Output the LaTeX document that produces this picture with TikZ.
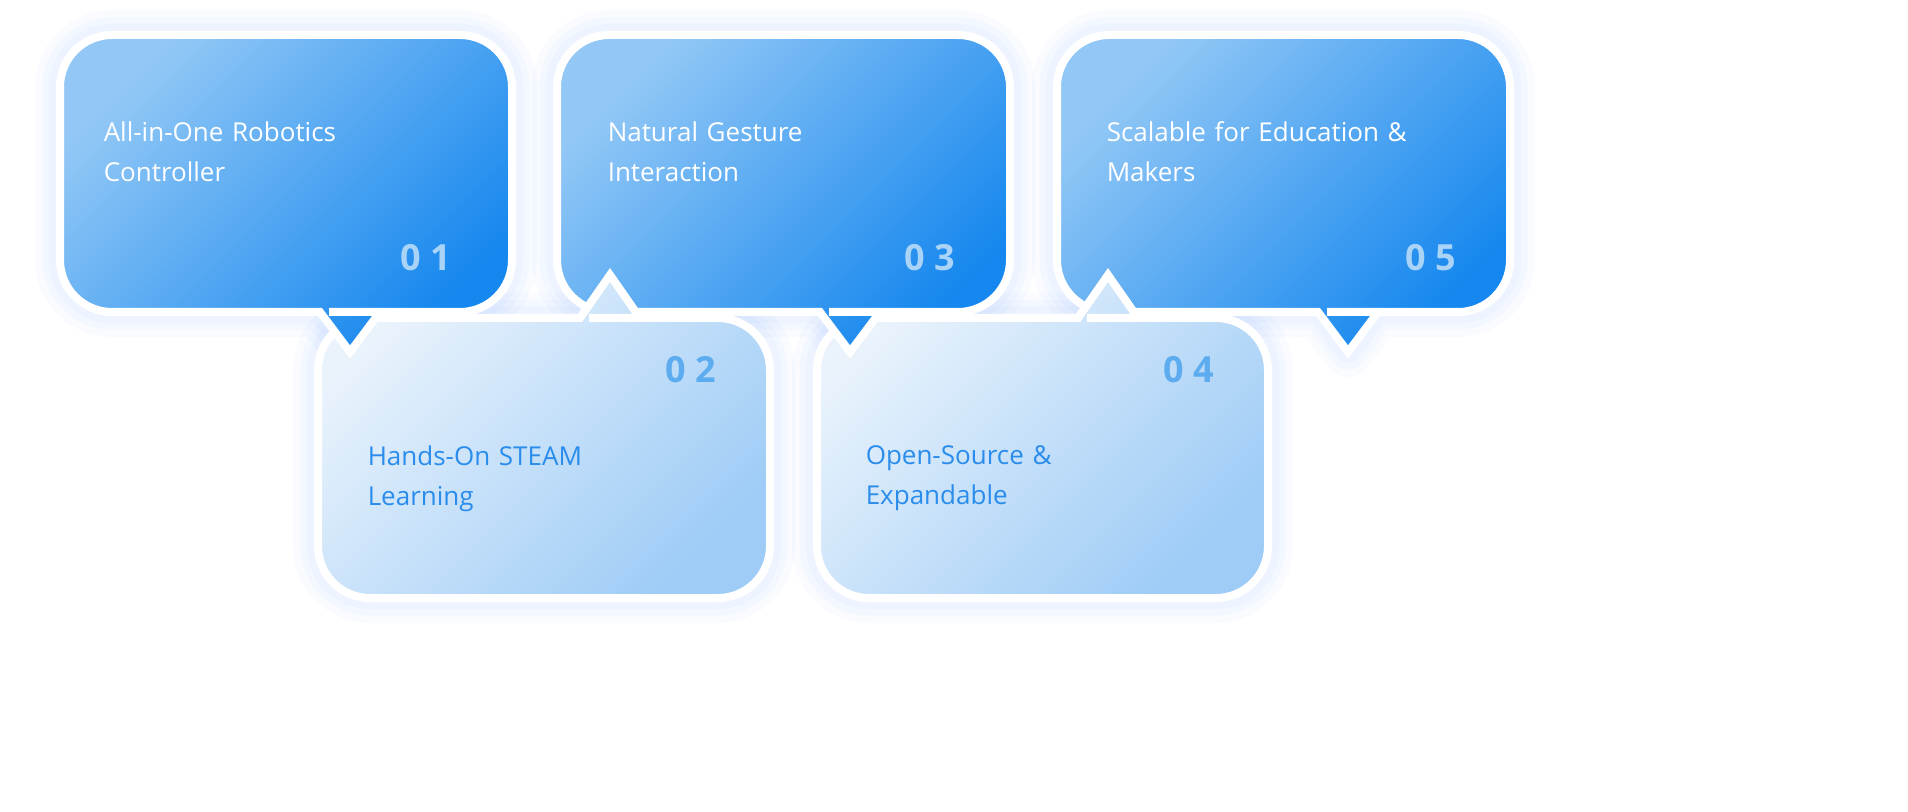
\documentclass[tikz,border=0pt]{standalone}
\usepackage{fontspec}
\setmainfont{Open Sans}
\begin{document}
\definecolor{tA}{HTML}{93C8F6}
\definecolor{tB}{HTML}{1587EE}
\definecolor{bA}{HTML}{EAF3FC}
\definecolor{bB}{HTML}{9ECCF6}
\definecolor{numT}{HTML}{A9D3F7}
\definecolor{numB}{HTML}{5DACF0}
\definecolor{txtB}{HTML}{2A8CEB}
\newcommand\upbox[5]{% x0 y0 x1 y1 tipx ; pointer down
 (#1,#2+100) [rounded corners=20.8pt]-- (#1,#2) -- (#3,#2) -- (#3,#4) -- (#5+31,#4) [sharp corners]-- (#5+30,#4) -- (#5,#4+40) -- (#5-30,#4) -- (#5-31,#4) [rounded corners=20.8pt]-- (#1,#4) -- cycle}
\newcommand\lowbox[5]{% pointer up
 (#1,#2+100) [rounded corners=20.8pt]-- (#1,#4) -- (#3,#4) -- (#3,#2) -- (#5+31,#2) [sharp corners]-- (#5+30,#2) -- (#5,#2-43) -- (#5-30,#2) -- (#5-31,#2) [rounded corners=20.8pt]-- (#1,#2) -- cycle}
\begin{tikzpicture}[x=0.4pt,y=-0.4pt,
  glow/.style={draw=blue!60!cyan,line width=#1,opacity=0.025,line join=round},
  top/.style={top color=tA,bottom color=tB,shading angle=45,draw=white,line width=3.2pt},
  low/.style={top color=bA,bottom color=bB,shading angle=45,draw=white,line width=3.2pt},
  ttxt/.style={anchor=north west,text width=152pt,inner sep=1.3pt,align=left,font=\fontsize{10.4}{16}\selectfont,text=white},
  btxt/.style={anchor=north west,text width=152pt,inner sep=1.3pt,align=left,font=\fontsize{10.4}{16}\selectfont,text=txtB},
  numt/.style={font=\fontsize{14.4}{14.4}\selectfont\bfseries,text=numT},
  numb/.style={font=\fontsize{14.4}{14.4}\selectfont\bfseries,text=numB}]
\fill[white] (0,0) rectangle (1908,812);
% glows
\foreach \w in {20pt,14pt,9pt}{
 \path[glow=\w] \lowbox{318}{318}{770}{598}{610};
 \path[glow=\w] \lowbox{817}{318}{1268}{598}{1108};
 \path[glow=\w] \upbox{60}{35}{512}{312}{350};
 \path[glow=\w] \upbox{557}{35}{1010}{312}{850};
 \path[glow=\w] \upbox{1057}{35}{1510}{312}{1348};}
% lower boxes
\path[low] \lowbox{318}{318}{770}{598}{610};
\path[low] \lowbox{817}{318}{1268}{598}{1108};
% upper boxes
\path[top] \upbox{60}{35}{512}{312}{350};
\path[top] \upbox{557}{35}{1010}{312}{850};
\path[top] \upbox{1057}{35}{1510}{312}{1348};
% lower pointers on top
\begin{scope}
\clip (555,250) rectangle (665,315);
\path[low] \lowbox{318}{318}{770}{598}{610};
\end{scope}
\begin{scope}
\clip (1053,250) rectangle (1163,315);
\path[low] \lowbox{817}{318}{1268}{598}{1108};
\end{scope}
% texts
\node[ttxt] (t1) at (100,118) {All-in-One Robotics\\Controller};
\node[ttxt] (t3) at (604,118) {Natural Gesture\\Interaction};
\node[ttxt] (t5) at (1103,118) {Scalable for Education \&\\Makers};
\node[btxt] (t2) at (364,442) {Hands-On STEAM\\Learning};
\node[btxt] (t4) at (862,442) {Open-Source \&\\Expandable};
\node[numt] (n1) at (426,258) {0\hspace{3.6pt}1};
\node[numt] (n3) at (930,258) {0\hspace{3.6pt}3};
\node[numt] (n5) at (1431,258) {0\hspace{3.6pt}5};
\node[numb] (n2) at (691,370) {0\hspace{3.6pt}2};
\node[numb] (n4) at (1189,370) {0\hspace{3.6pt}4};
\pgfresetboundingbox
\useasboundingbox (0,0) rectangle (1908,812);
\end{tikzpicture}
\end{document}
